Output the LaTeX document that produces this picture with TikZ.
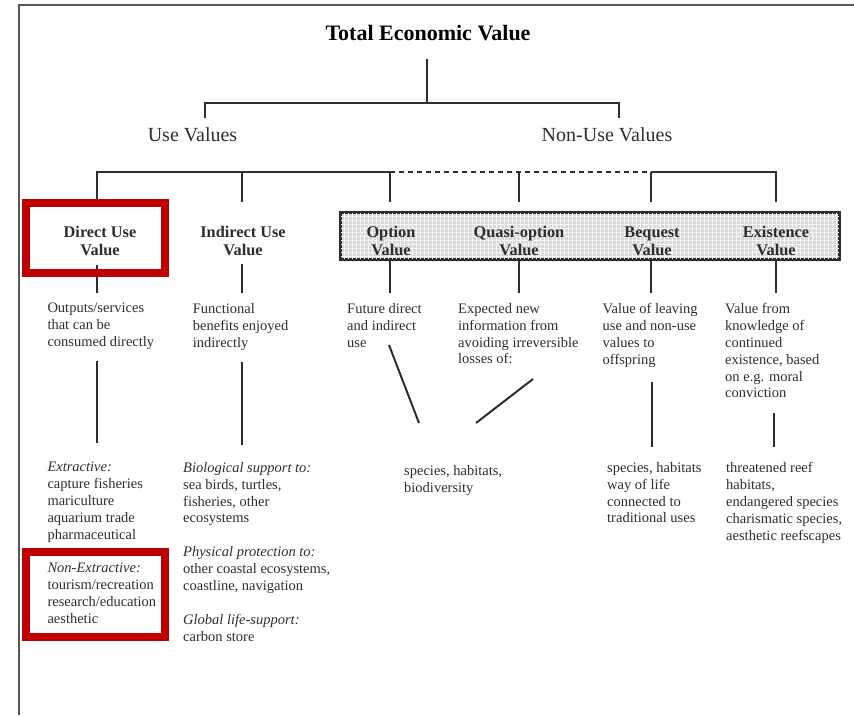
\documentclass[tikz,border=0pt]{standalone}
\usepackage{fontspec}
\setmainfont{Liberation Serif}
\usepackage{xcolor}
\definecolor{tevred}{RGB}{192,0,0}
\definecolor{tevink}{RGB}{45,45,45}
\usepackage{tikz}
\tikzset{
  tree/.style={draw=tevink,line width=2pt},
  head/.style={font=\fontsize{16.3}{18.5}\selectfont\bfseries,align=center,inner sep=0pt,text=tevink},
  note/.style={font=\fontsize{14.5}{16.9}\selectfont,align=left,inner sep=0pt,anchor=north west,text=tevink},
  hilite/.style={draw=tevred,line width=7.5pt,inner sep=0pt},
  nonuse/.style={draw=tevink,line width=2.2pt,fill=black!15,inner sep=0pt},
}

\begin{document}
\begin{tikzpicture}[x=1pt,y=-1pt]
\useasboundingbox (0,0) rectangle (854,715);
\draw[draw=tevink!80,line width=1.5pt] (19,715) -- (19,5) -- (854,5);
% top of the tree
\node[font=\fontsize{22}{26}\selectfont\bfseries,anchor=base] (tev) at (428,40) {Total Economic Value};
\node[font=\fontsize{20}{24}\selectfont,anchor=base,text=tevink] (useV) at (192.5,141) {Use Values};
\node[font=\fontsize{20}{24}\selectfont,anchor=base,text=tevink] (nonuseV) at (607,141) {Non-Use Values};
\coordinate (tevStem) at (427,59);
\coordinate (tevJ) at (427,103);
\coordinate (useDrop) at (205,118);
\coordinate (nonuseDrop) at (619,118);
\draw[tree] (tevStem) -- (tevJ);
\draw[tree] (useDrop) -- (useDrop |- tevJ) -- (nonuseDrop |- tevJ) -- (nonuseDrop);
% value boxes
\node[nonuse,minimum width=498,minimum height=46] (nonuseBox) at (590,236) {};
\begin{scope}
  \clip (nonuseBox.south west) rectangle (nonuseBox.north east);
  \draw[white!70!black!15,line width=1pt,step=4pt] (nonuseBox.south west) grid (nonuseBox.north east);
\end{scope}
\draw[draw=tevink,line width=2.2pt] (nonuseBox.south west) rectangle (nonuseBox.north east);
\node[head] (directLbl) at (100,241) {Direct Use\\Value};
\node[head] (indirectLbl) at (243,241) {Indirect Use\\Value};
\node[head] (optionLbl) at (391,241) {Option\\Value};
\node[head] (quasiLbl) at (519,241) {Quasi-option\\Value};
\node[head] (bequestLbl) at (652,241.5) {Bequest\\Value};
\node[head] (existLbl) at (776,241) {Existence\\Value};
\coordinate (level) at (0,172);
\foreach \c/\x/\yt in {direct/97/265,indirect/242/264,option/390/259,quasi/519/259,bequest/651/259,exist/776/259} {
  \coordinate (\c-in) at (\x,202);
  \coordinate (\c-top) at (\x,\yt);
  \coordinate (\c-out) at (\x,293);
}
\draw[tree] (direct-in) -- (direct-in |- level) -- (option-in |- level);
\draw[tree,dash pattern=on 5pt off 4pt] (option-in |- level) -- (bequest-in |- level);
\draw[tree] (exist-in) -- (exist-in |- level) -- (bequest-in |- level);
\foreach \c in {indirect,option,quasi,bequest}
  \draw[tree] (\c-in |- level) -- (\c-in);
\foreach \c in {direct,indirect,option,quasi,bequest,exist}
  \draw[tree] (\c-top) -- (\c-out);
% descriptions
\node[note] (directDesc) at (47.3,303) {Outputs/services\\that can be\\consumed directly};
\node[note] (indirectDesc) at (192.7,303) {Functional\\benefits enjoyed\\indirectly};
\node[note] (optionDesc) at (347,303) {Future direct\\and indirect\\use};
\node[note] (quasiDesc) at (458,303) {Expected new\\information from\\avoiding irreversible\\losses of:};
\node[note] (bequestDesc) at (602.5,303) {Value of leaving\\use and non-use\\values to\\offspring};
\node[note] (existDesc) at (725,303) {Value from\\knowledge of\\continued\\existence, based\\on e.g. moral\\conviction};
% links down to the examples
\foreach \c/\xa/\ya/\xb/\yb in {direct/97/361/97/443,indirect/242/362/242/445,option/389/345/419/423,quasi/533/379/476/423,bequest/652/382/652/447,exist/774/413/774/447} {
  \coordinate (\c-mid) at (\xa,\ya);
  \coordinate (\c-low) at (\xb,\yb);
  \draw[tree] (\c-mid) -- (\c-low);
}
% examples
\node[note] (directList) at (47.3,462) {\textit{Extractive:}\\capture fisheries\\mariculture\\aquarium trade\\pharmaceutical};
\node[note] (nonextrList) at (47.3,563) {\textit{Non-Extractive:}\\tourism/recreation\\research/education\\aesthetic};
\node[note] (indirectList) at (183,462) {\textit{Biological support to:}\\sea birds, turtles,\\fisheries, other\\ecosystems\\[16.9pt]\textit{Physical protection to:}\\other coastal ecosystems,\\coastline, navigation\\[16.9pt]\textit{Global life-support:}\\carbon store};
\node[note] (lossList) at (404,465) {species, habitats,\\biodiversity};
\node[note] (bequestList) at (607,462) {species, habitats\\way of life\\connected to\\traditional uses};
\node[note] (existList) at (726,462) {threatened reef\\habitats,\\endangered species\\charismatic species,\\aesthetic reefscapes};
% highlights
\node[hilite,minimum width=139.4,minimum height=70] (directBox) at (95.5,238) {};
\node[hilite,minimum width=139.4,minimum height=85.4] (nonextrBox) at (95.5,594.5) {};
\end{tikzpicture}
\end{document}
